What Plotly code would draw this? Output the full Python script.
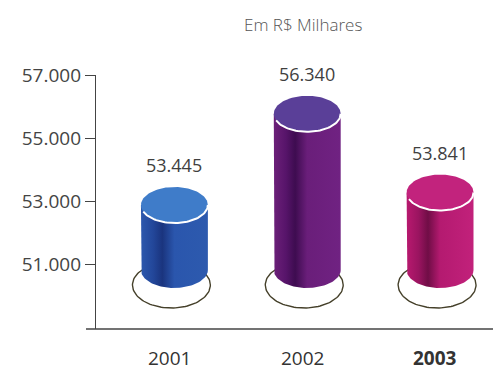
import numpy as np
import plotly.graph_objects as go

# Data
years = ["2001", "2002", "2003"]
values = [53445, 56340, 53841]
tick_values = [51000, 53000, 55000, 57000]
tick_labels = ["51.000", "53.000", "55.000", "57.000"]

# Colours per cylinder: top face, body gradient (left -> dark stripe -> right)
top_colors = ["#3f7cc9", "#5a3f98", "#c2237d"]
body_scales = [
    [[0, "#2c58ad"], [0.18, "#23479a"], [0.32, "#1a347e"], [0.5, "#2a56ad"], [1, "#2d5aae"]],
    [[0, "#6c2079"], [0.18, "#57146a"], [0.32, "#3e0c50"], [0.5, "#6a1e7a"], [1, "#702282"]],
    [[0, "#b8196f"], [0.18, "#9a1460"], [0.32, "#700d46"], [0.5, "#b41a70"], [1, "#c2217b"]],
]

# Layout geometry (pixels)
W, H = 493, 370
L, T, B = 96, 75, 41
plot_w, plot_h = W - L, H - T - B
px_per_cat = 133.0
px_per_unit = 31.5 / 1000.0
x_range = [-(174.5 - L) / px_per_cat, 2 + (W - 440) / px_per_cat]
y_top = 57000
y_range = [y_top - plot_h / px_per_unit, y_top]


def dx(px):
    return px / px_per_cat


def dy(px):
    return px / px_per_unit


def y_at(py):
    return y_top - dy(py - T)


half_w = dx(33.5)
cap_ry = dy(18)
base_c = y_at(270)
ring_rx, ring_ry = dx(39), dy(23)
ring_c = y_at(285)

fig = go.Figure()
t = np.linspace(0, 2 * np.pi, 121)

for i, v in enumerate(values):
    cx = i
    # shadow ring at the foot
    fig.add_trace(go.Scatter(
        x=cx - dx(3) + ring_rx * np.cos(t), y=ring_c + ring_ry * np.sin(t),
        mode="lines", line=dict(color="#45402a", width=1.4),
        hoverinfo="skip", showlegend=False))
    # body
    top_c = v - cap_ry
    a = np.linspace(np.pi, 2 * np.pi, 61)
    bx = np.concatenate([[cx - half_w], cx + half_w * np.cos(a), [cx + half_w, cx - half_w]])
    by = np.concatenate([[top_c], base_c + cap_ry * np.sin(a), [top_c, top_c]])
    fig.add_trace(go.Scatter(
        x=bx, y=by, mode="lines", fill="toself", line=dict(width=0),
        fillgradient=dict(type="horizontal", colorscale=body_scales[i]),
        hoverinfo="skip", showlegend=False))
    # top face
    fig.add_trace(go.Scatter(
        x=cx + half_w * np.cos(t), y=top_c + cap_ry * np.sin(t),
        mode="lines", fill="toself", fillcolor=top_colors[i], line=dict(width=0),
        hoverinfo="skip", showlegend=False))
    # white rim on the front edge of the top
    r = np.linspace(np.pi * 1.12, 2 * np.pi, 50)
    fig.add_trace(go.Scatter(
        x=cx + half_w * np.cos(r), y=top_c + cap_ry * np.sin(r),
        mode="lines", line=dict(color="white", width=2),
        hoverinfo="skip", showlegend=False))

annotations = []
for i, v in enumerate(values):
    annotations.append(dict(
        x=i, y=v, xref="x", yref="y", text=f"{v:,}".replace(",", "."),
        showarrow=False, yanchor="bottom", yshift=8,
        font=dict(family="Open Sans", size=18, color="#3f3f3f")))
for i, yr in enumerate(years):
    label = f"<b>{yr}</b>" if i == len(years) - 1 else yr
    annotations.append(dict(
        x=i, y=0, xref="x", yref="paper", text=label, showarrow=False,
        yanchor="middle", yshift=-29, xshift=-5,
        font=dict(family="Open Sans", size=19, color="#333333")))
annotations.append(dict(
    x=(303 - L) / plot_w, y=1 + (T - 25) / plot_h, xref="paper", yref="paper",
    text="Em R$ Milhares", showarrow=False, yanchor="middle",
    font=dict(family="Open Sans", size=17, color="#555555", weight=300)))

fig.update_layout(
    width=W, height=H,
    margin=dict(l=L, r=0, t=T, b=B),
    paper_bgcolor="white", plot_bgcolor="white",
    annotations=annotations,
    shapes=[dict(type="line", xref="paper", yref="paper",
                 x0=-10 / plot_w, x1=1, y0=0, y1=0,
                 line=dict(color="#444444", width=1.5))],
    xaxis=dict(range=x_range, visible=False, fixedrange=True),
    yaxis=dict(range=y_range, tickvals=tick_values, ticktext=tick_labels,
               ticks="outside", ticklen=10, tickwidth=1.3, tickcolor="#444444",
               showline=True, linecolor="#444444", linewidth=1.3,
               showgrid=False, zeroline=False, fixedrange=True,
               tickfont=dict(family="Open Sans", size=19, color="#444444")),
)

fig.write_html("out.html")
